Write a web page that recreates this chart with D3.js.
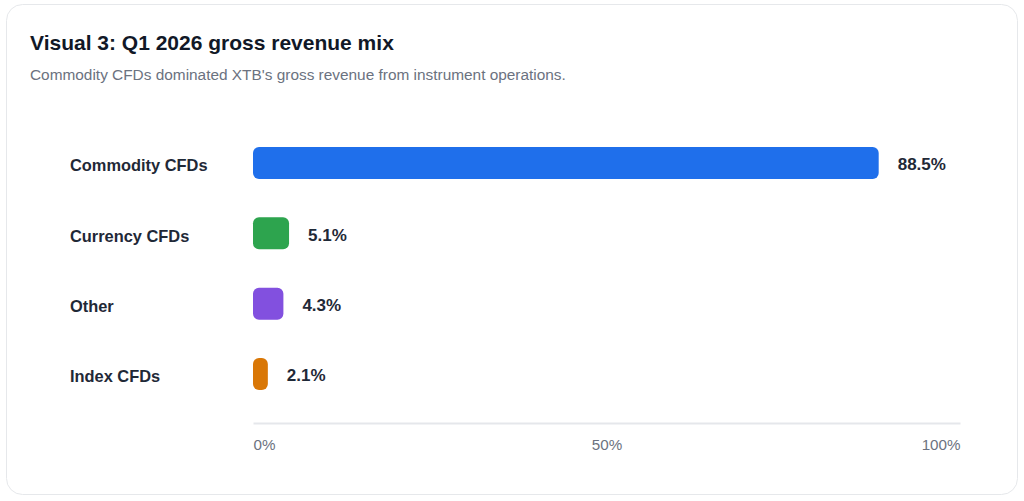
<!DOCTYPE html>
<html lang="en">
<head>
<meta charset="UTF-8">
<title>Q1 2026 gross revenue mix</title>
<style>
  html, body { margin: 0; padding: 0; background: #fff; }
  svg { display: block; font-family: "Liberation Sans", Arial, Helvetica, sans-serif; }
</style>
</head>
<body>
<svg id="chart" width="1024" height="501"></svg>
<script src="https://cdn.jsdelivr.net/npm/d3@7"></script>
<script>
const categories = ['Commodity CFDs', 'Currency CFDs', 'Other', 'Index CFDs'];
const shares = [88.5, 5.1, 4.3, 2.1];
const barColors = ['#1f6feb', '#2da44e', '#8250df', '#d97706'];
const tickValues = [0, 50, 100];

const W = 1024, H = 501;
const svg = d3.select('#chart');

// card
svg.append('rect')
  .attr('x', 6.5).attr('y', 4.5)
  .attr('width', 1011).attr('height', 490)
  .attr('rx', 16)
  .attr('fill', '#fff')
  .attr('stroke', '#e6e8eb');

svg.append('text')
  .attr('x', 30).attr('y', 50)
  .attr('font-size', 21).attr('font-weight', 700)
  .attr('fill', '#111827')
  .text('Visual 3: Q1 2026 gross revenue mix');

svg.append('text')
  .attr('x', 30).attr('y', 80)
  .attr('font-size', 15.4)
  .attr('fill', '#6b7280')
  .text("Commodity CFDs dominated XTB's gross revenue from instrument operations.");

const x = d3.scaleLinear().domain([0, 100]).range([253, 960]);
const y = d3.scalePoint().domain(categories).range([163, 374]);
const barH = 32;

const rows = categories.map((c, i) => ({ name: c, value: shares[i], color: barColors[i] }));

const g = svg.append('g');

g.selectAll('text.cat')
  .data(rows)
  .enter()
  .append('text')
  .attr('class', 'cat')
  .attr('x', 70)
  .attr('y', d => y(d.name) + 2.5)
  .attr('dy', '0.35em')
  .attr('font-size', 16.4).attr('font-weight', 700)
  .attr('fill', '#1f2937')
  .text(d => d.name);

g.selectAll('rect.bar')
  .data(rows)
  .enter()
  .append('rect')
  .attr('class', 'bar')
  .attr('x', x(0))
  .attr('y', d => y(d.name) - barH / 2)
  .attr('width', d => x(d.value) - x(0))
  .attr('height', barH)
  .attr('rx', d => Math.min(6, (x(d.value) - x(0)) / 2))
  .attr('fill', d => d.color);

g.selectAll('text.val')
  .data(rows)
  .enter()
  .append('text')
  .attr('class', 'val')
  .attr('x', d => x(d.value) + 19)
  .attr('y', d => y(d.name) + 1.5)
  .attr('dy', '0.35em')
  .attr('font-size', 17).attr('font-weight', 700)
  .attr('fill', '#1f2937')
  .text(d => d.value.toFixed(1) + '%');

const xAxis = d3.axisBottom(x)
  .tickValues(tickValues)
  .tickSize(0)
  .tickSizeOuter(0)
  .tickPadding(16)
  .tickFormat(d => d + '%');

const ax = svg.append('g')
  .attr('transform', 'translate(0,423)')
  .call(xAxis);

ax.select('.domain').attr('stroke', '#e5e7eb').attr('stroke-width', 2);
ax.selectAll('.tick text')
  .attr('font-family', null)
  .attr('font-size', 15.2)
  .attr('fill', '#6b7280')
  .attr('text-anchor', (d, i) => i === 0 ? 'start' : (i === tickValues.length - 1 ? 'end' : 'middle'));
</script>
</body>
</html>
